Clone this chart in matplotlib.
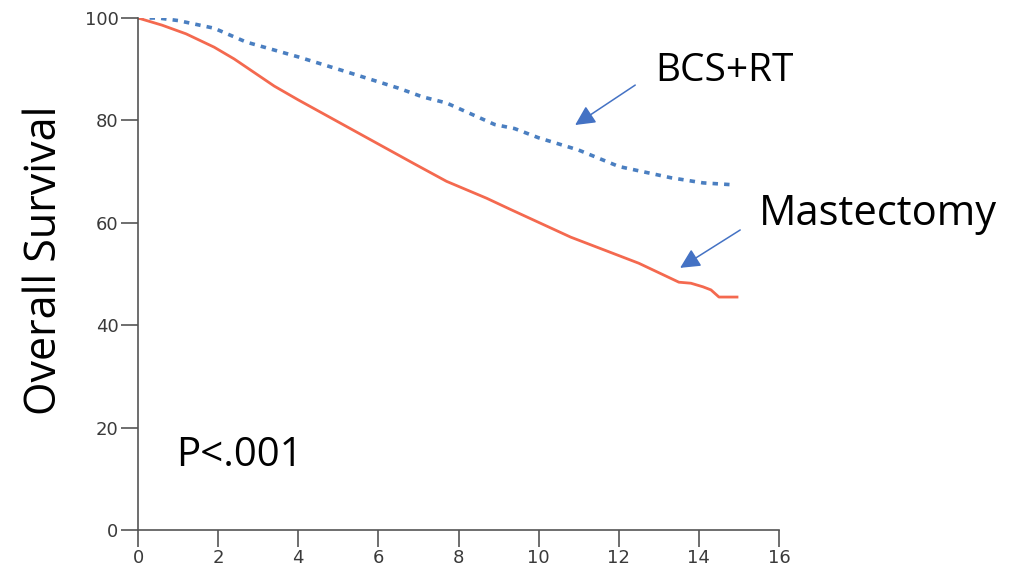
import numpy as np
import matplotlib.pyplot as plt

# survival curves (years, %)
bcs_years = [0, 0.5, 1.0, 1.9, 2.7, 4.0, 5.2, 6.5, 7.1, 7.7, 8.5, 8.9, 9.4, 10.0, 11.0, 12.0, 13.3, 14.1, 14.9]
bcs_surv = [100, 100, 99.5, 98.0, 95.3, 92.4, 89.5, 86.3, 84.6, 83.4, 80.6, 79.2, 78.4, 76.6, 74.2, 71.0, 68.8, 67.8, 67.4]

mast_years = [0, 0.6, 1.2, 1.9, 2.4, 3.4, 4.0, 5.6, 6.9, 7.7, 8.7, 9.3, 10.8, 12.5, 13.5, 13.8, 14.1, 14.3, 14.5, 14.95]
mast_surv = [100, 98.6, 96.9, 94.3, 92.0, 86.7, 84.0, 77.1, 71.5, 68.1, 64.8, 62.6, 57.2, 52.1, 48.4, 48.2, 47.5, 46.9, 45.5, 45.5]

x_ticks = [0, 2, 4, 6, 8, 10, 12, 14, 16]
y_ticks = [0, 20, 40, 60, 80, 100]

fig = plt.figure(figsize=(10.24, 5.73), dpi=100)
ax = fig.add_axes([0.1348, 0.075, 0.626, 0.8936])

ax.plot(bcs_years, bcs_surv, color='#4a7fc1', lw=2.6, linestyle=(0, (1.5, 1.7)))
ax.plot(mast_years, mast_surv, color='#f4694f', lw=2.0)

ax.set_xlim(0, 16)
ax.set_ylim(0, 100)
ax.set_xticks(x_ticks)
ax.set_yticks(y_ticks)
ax.spines['top'].set_visible(False)
ax.spines['right'].set_visible(False)
for s in ['left', 'bottom']:
    ax.spines[s].set_color('#555555')
    ax.spines[s].set_linewidth(1.2)
ax.tick_params(direction='out', length=12, width=1.2, color='#555555',
               labelsize=13, labelcolor='#3a3a3a', pad=2)

fig.text(0.044, 0.546, 'Overall Survival', fontsize=31, family='Open Sans',
         rotation=90, ha='center', va='center')

ax.text(0.95, 12.5, 'P<.001', fontsize=29, family='Open Sans')

# labels and their arrows
ax.text(12.9, 89.7, 'BCS+RT', fontsize=28, family='Open Sans', va='center')
ax.text(15.5, 61.8, 'Mastectomy', fontsize=30, family='Open Sans', va='center')

arrow = dict(arrowstyle='-|>', color='#4472c4', lw=1.1, mutation_scale=30,
             shrinkA=0, shrinkB=0)
ax.annotate('', xy=(10.91, 79.1), xytext=(12.41, 86.9), arrowprops=arrow,
            annotation_clip=False)
ax.annotate('', xy=(13.53, 51.2), xytext=(15.03, 58.6), arrowprops=arrow,
            annotation_clip=False)

fig.savefig('out.png', dpi=100)
